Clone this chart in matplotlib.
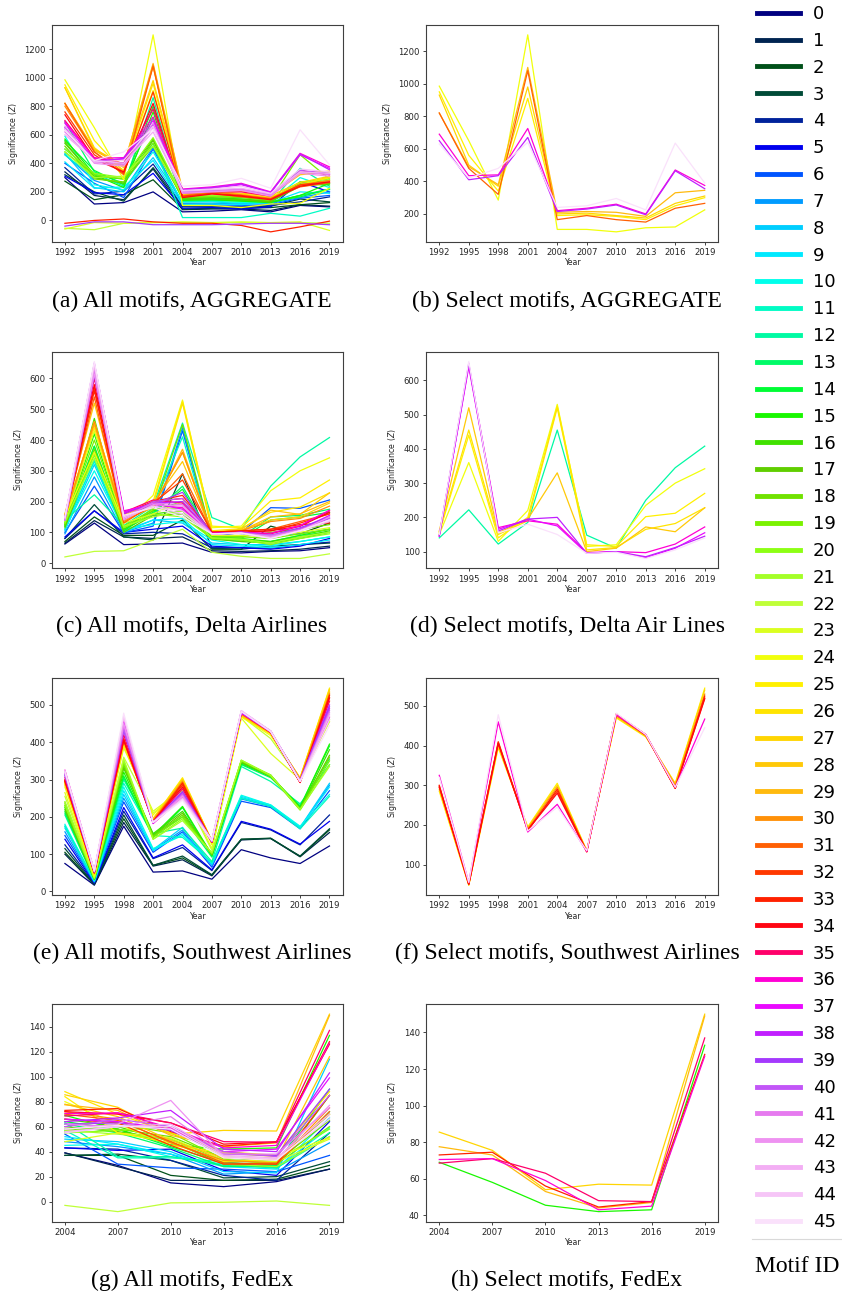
import matplotlib
matplotlib.use("Agg")
import matplotlib.pyplot as plt
import numpy as np
from matplotlib.lines import Line2D
from matplotlib.ticker import MultipleLocator

# years on the x axis
YEARS = [1992, 1995, 1998, 2001, 2004, 2007, 2010, 2013, 2016, 2019]
FEDEX_YEARS = [2004, 2007, 2010, 2013, 2016, 2019]

# significance per motif (rows = motif 0..45), AGGREGATE network
AGGREGATE = [
    [300, 115, 125, 200, 60, 65, 75, 60, 105, 95],
    [340, 175, 145, 360, 75, 80, 80, 70, 110, 100],
    [275, 145, 180, 285, 80, 85, 85, 90, 110, 125],
    [320, 200, 135, 370, 95, 95, 90, 100, 150, 130],
    [370, 185, 205, 395, 100, 100, 95, 105, 130, 165],
    [310, 195, 180, 330, 85, 90, 80, 95, 270, 200],
    [400, 260, 160, 500, 110, 110, 105, 110, 155, 175],
    [460, 280, 210, 510, 120, 120, 115, 120, 160, 200],
    [470, 230, 200, 440, 130, 130, 120, 125, 175, 215],
    [410, 225, 235, 420, 110, 115, 110, 125, 200, 190],
    [590, 250, 215, 480, 130, 135, 125, 130, 300, 230],
    [460, 300, 255, 540, 20, 20, 20, 50, 30, 85],
    [500, 330, 240, 860, 135, 140, 135, 125, 365, 240],
    [690, 340, 260, 720, 150, 155, 150, 130, 175, 220],
    [560, 350, 250, 800, 145, 150, 140, 130, 165, 220],
    [570, 320, 230, 760, 140, 145, 135, 125, 175, 260],
    [540, 310, 290, 570, 155, 160, 150, 135, 250, 250],
    [550, 300, 260, 560, 150, 150, 145, 130, 240, 260],
    [520, 290, 270, 520, 160, 165, 160, 140, 260, 280],
    [480, 320, 290, 540, 165, 170, 165, 145, 460, 290],
    [500, 330, 300, 580, 170, 175, 170, 150, 270, 290],
    [480, 300, 310, 520, 175, 180, 175, 150, 250, 300],
    [-55, -65, -20, -15, -15, -15, -15, -20, -15, -20],
    [-60, -15, -20, -15, -10, -15, -10, -15, -10, -70],
    [985, 650, 285, 1300, 105, 105, 90, 115, 120, 225],
    [950, 560, 340, 910, 190, 195, 185, 165, 250, 300],
    [930, 510, 350, 960, 180, 190, 175, 160, 240, 310],
    [930, 500, 370, 980, 200, 205, 190, 175, 265, 310],
    [820, 500, 390, 1080, 205, 210, 205, 180, 320, 340],
    [820, 490, 380, 1100, 210, 215, 210, 185, 330, 345],
    [800, 480, 340, 1090, 175, 200, 180, 155, 250, 280],
    [820, 480, 320, 1080, 165, 190, 165, 150, 235, 265],
    [760, 460, 330, 900, 170, 190, 175, 150, 250, 270],
    [-20, 0, 10, -10, -20, -20, -35, -80, -45, -5],
    [740, 430, 340, 820, 160, 185, 170, 145, 240, 270],
    [700, 440, 400, 780, 190, 200, 200, 170, 350, 320],
    [690, 435, 440, 725, 220, 235, 260, 200, 470, 375],
    [680, 420, 430, 700, 215, 225, 250, 195, 460, 365],
    [650, 410, 435, 670, 215, 230, 255, 195, 465, 355],
    [-40, -10, -10, -30, -30, -30, -25, -20, -20, -30],
    [640, 420, 400, 650, 200, 210, 220, 180, 350, 330],
    [620, 410, 390, 680, 195, 205, 215, 175, 340, 320],
    [660, 400, 380, 650, 190, 200, 210, 170, 330, 310],
    [600, 420, 400, 620, 205, 215, 225, 185, 340, 330],
    [640, 410, 420, 660, 210, 220, 240, 190, 360, 340],
    [630, 420, 480, 640, 240, 250, 295, 225, 635, 390],
]

DELTA = [
    [62, 130, 60, 62, 65, 35, 33, 38, 40, 50],
    [65, 138, 85, 80, 85, 40, 38, 40, 45, 55],
    [70, 150, 90, 90, 140, 45, 45, 120, 95, 130],
    [80, 190, 85, 75, 290, 48, 45, 55, 60, 65],
    [80, 170, 95, 100, 95, 50, 50, 48, 60, 68],
    [85, 170, 100, 110, 120, 55, 50, 45, 55, 80],
    [100, 250, 98, 120, 430, 85, 100, 180, 178, 205],
    [95, 280, 100, 130, 440, 80, 90, 90, 95, 110],
    [105, 320, 105, 140, 130, 65, 60, 60, 70, 85],
    [110, 335, 100, 140, 145, 60, 55, 50, 60, 75],
    [110, 300, 110, 125, 135, 75, 60, 55, 70, 85],
    [120, 330, 105, 180, 410, 80, 70, 70, 90, 100],
    [140, 222, 122, 185, 455, 148, 110, 250, 345, 408],
    [120, 380, 110, 160, 250, 85, 85, 150, 155, 175],
    [125, 380, 105, 165, 240, 80, 80, 140, 150, 165],
    [130, 420, 115, 170, 200, 85, 80, 70, 90, 110],
    [120, 470, 110, 160, 170, 80, 75, 70, 85, 105],
    [115, 360, 100, 155, 160, 78, 70, 65, 80, 100],
    [125, 370, 115, 170, 450, 85, 85, 100, 110, 125],
    [130, 400, 120, 175, 180, 90, 85, 80, 95, 110],
    [130, 350, 115, 160, 150, 80, 75, 60, 80, 95],
    [135, 340, 120, 150, 170, 82, 78, 65, 85, 100],
    [20, 38, 40, 75, 110, 35, 22, 15, 15, 30],
    [140, 430, 130, 160, 200, 90, 90, 85, 100, 115],
    [150, 360, 130, 220, 530, 115, 120, 235, 300, 342],
    [155, 440, 140, 200, 525, 120, 115, 202, 212, 270],
    [158, 455, 150, 190, 520, 105, 112, 165, 182, 228],
    [150, 460, 145, 185, 360, 100, 108, 140, 150, 195],
    [160, 520, 155, 195, 330, 100, 110, 172, 158, 228],
    [150, 450, 140, 180, 370, 100, 105, 150, 160, 200],
    [150, 460, 135, 185, 360, 100, 105, 135, 145, 185],
    [145, 540, 130, 190, 290, 100, 105, 110, 135, 160],
    [150, 570, 140, 195, 270, 100, 100, 105, 130, 160],
    [145, 560, 145, 200, 220, 100, 105, 110, 125, 130],
    [150, 580, 160, 200, 210, 100, 100, 105, 120, 165],
    [145, 600, 165, 205, 195, 97, 100, 95, 120, 170],
    [145, 645, 170, 190, 180, 97, 100, 97, 122, 172],
    [148, 640, 165, 195, 175, 95, 100, 82, 110, 155],
    [145, 650, 160, 195, 200, 95, 100, 85, 112, 145],
    [140, 610, 150, 190, 230, 95, 100, 90, 115, 150],
    [140, 620, 145, 200, 210, 95, 98, 90, 110, 145],
    [145, 630, 150, 195, 190, 95, 98, 88, 108, 140],
    [140, 615, 140, 190, 185, 95, 97, 85, 105, 150],
    [145, 640, 145, 185, 170, 95, 96, 82, 105, 135],
    [148, 650, 150, 185, 160, 95, 97, 80, 105, 140],
    [150, 655, 155, 180, 150, 95, 98, 80, 105, 140],
]

SOUTHWEST = [
    [75, 17, 175, 52, 55, 33, 112, 90, 75, 122],
    [100, 18, 185, 68, 85, 42, 138, 142, 93, 158],
    [105, 20, 195, 70, 90, 44, 140, 143, 94, 165],
    [115, 20, 205, 70, 95, 45, 140, 142, 95, 168],
    [125, 22, 215, 88, 118, 56, 185, 165, 125, 205],
    [140, 23, 225, 90, 125, 58, 188, 167, 127, 188],
    [150, 25, 240, 105, 160, 65, 242, 225, 168, 270],
    [160, 26, 250, 110, 165, 70, 248, 228, 170, 285],
    [170, 27, 260, 112, 172, 72, 252, 230, 172, 290],
    [175, 28, 270, 110, 155, 75, 255, 232, 172, 280],
    [180, 29, 280, 115, 150, 76, 258, 232, 175, 260],
    [175, 30, 290, 150, 145, 78, 250, 228, 168, 255],
    [205, 32, 300, 155, 170, 80, 335, 295, 235, 340],
    [210, 32, 305, 150, 200, 92, 340, 305, 230, 355],
    [215, 33, 310, 145, 225, 95, 342, 308, 228, 390],
    [225, 33, 320, 150, 228, 98, 345, 310, 225, 395],
    [230, 34, 330, 155, 215, 100, 348, 312, 222, 380],
    [220, 34, 335, 150, 210, 98, 346, 308, 220, 365],
    [235, 35, 340, 148, 205, 100, 350, 310, 222, 360],
    [240, 35, 345, 145, 200, 102, 350, 312, 220, 350],
    [230, 36, 350, 140, 195, 103, 352, 310, 218, 340],
    [240, 36, 355, 140, 190, 104, 352, 312, 220, 335],
    [255, 38, 360, 210, 270, 110, 470, 410, 300, 460],
    [265, 40, 385, 215, 275, 115, 465, 370, 300, 455],
    [280, 42, 390, 205, 290, 125, 468, 418, 302, 510],
    [285, 48, 395, 195, 305, 135, 470, 422, 305, 545],
    [288, 46, 398, 195, 302, 135, 471, 423, 304, 542],
    [290, 48, 400, 193, 300, 135, 472, 424, 303, 540],
    [292, 48, 402, 192, 298, 134, 473, 424, 302, 535],
    [293, 49, 403, 191, 296, 134, 474, 425, 301, 532],
    [295, 50, 405, 190, 295, 133, 475, 425, 300, 530],
    [297, 50, 406, 189, 292, 133, 477, 426, 298, 527],
    [300, 50, 410, 188, 285, 132, 480, 428, 293, 520],
    [295, 52, 408, 185, 290, 133, 478, 427, 292, 525],
    [298, 50, 405, 187, 280, 132, 480, 427, 292, 518],
    [305, 52, 420, 186, 275, 133, 480, 428, 294, 510],
    [325, 55, 460, 182, 252, 133, 478, 428, 295, 467],
    [320, 54, 455, 183, 260, 134, 479, 428, 296, 490],
    [315, 53, 440, 184, 265, 135, 480, 429, 297, 500],
    [310, 52, 430, 185, 268, 135, 481, 429, 298, 495],
    [312, 53, 435, 185, 262, 136, 482, 430, 297, 485],
    [318, 54, 445, 186, 258, 136, 483, 430, 296, 480],
    [320, 55, 450, 186, 255, 137, 484, 430, 295, 475],
    [322, 55, 465, 185, 250, 138, 484, 430, 295, 470],
    [324, 55, 470, 185, 248, 138, 485, 430, 295, 460],
    [320, 55, 478, 185, 245, 135, 482, 428, 295, 445],
]

FEDEX = [
    [39, 29, 15, 12, 16, 26],
    [39, 28, 17, 17, 17, 26],
    [37, 37, 21, 17, 18, 29],
    [37, 38, 33, 19, 20, 32],
    [43, 42, 33, 21, 17, 55],
    [43, 41, 42, 25, 21, 64],
    [54, 30, 27, 26, 24, 37],
    [48, 44, 38, 22, 24, 47],
    [50, 48, 40, 24, 23, 114],
    [52, 46, 38, 28, 26, 67],
    [45, 46, 36, 30, 27, 59],
    [57, 35, 35, 32, 27, 52],
    [63, 36, 36, 29, 27, 55],
    [62, 55, 43, 28, 29, 72],
    [64, 58, 44, 31, 30, 90],
    [69, 58, 45.5, 42, 43, 133],
    [66, 60, 48, 30, 28, 85],
    [60, 56, 50, 33, 31, 70],
    [58, 58, 52, 35, 32, 65],
    [56, 62, 55, 34, 30, 60],
    [55, 57, 60, 36, 33, 58],
    [57, 54, 50, 30, 28, 52],
    [-3, -8, -1, -0.5, 0.5, -3],
    [48, 55, 51, 33, 32, 50],
    [80, 62, 45, 39, 36, 51],
    [84, 55, 47, 32, 34, 70],
    [88, 70, 55, 40, 37, 88],
    [85.5, 75.5, 54, 57, 56.5, 150],
    [78, 68, 49, 35, 34, 116],
    [77.5, 73, 53, 44, 47, 149],
    [72, 66, 47, 33, 31, 75],
    [70, 65, 48, 31, 30, 72],
    [66, 63, 45, 30, 30, 85],
    [73, 74.5, 56, 44.5, 47.5, 128],
    [72, 70, 63, 46, 48, 126],
    [68.5, 71, 63, 48, 47.5, 137],
    [70.5, 71, 59, 43, 45, 127],
    [66, 64, 58, 40, 42, 99],
    [64, 67, 73, 42, 40, 103],
    [62, 63, 57, 38, 37, 90],
    [60, 66, 60, 40, 36, 85],
    [62, 60, 68, 38, 38, 75],
    [58, 62, 81, 36, 34, 77],
    [56, 60, 62, 37, 35, 70],
    [55, 60, 60, 36, 34, 66],
    [58, 61, 58, 35, 33, 68],
]

# motifs shown in the "select" panels
SELECT_AGGREGATE = [24, 25, 27, 29, 31, 36, 38, 45]
SELECT_DELTA = [12, 24, 25, 26, 28, 36, 37, 38, 45]
SELECT_SOUTHWEST = [25, 27, 30, 32, 33, 34, 36, 45]
SELECT_FEDEX = [15, 27, 29, 33, 35, 36]

CAPTIONS = [
    "(a) All motifs, AGGREGATE", "(b) Select motifs, AGGREGATE",
    "(c) All motifs, Delta Airlines", "(d) Select motifs, Delta Air Lines",
    "(e) All motifs, Southwest Airlines", "(f) Select motifs, Southwest Airlines",
    "(g) All motifs, FedEx", "(h) Select motifs, FedEx",
]
Y_STEPS = [200, 200, 100, 100, 100, 100, 20, 20]

N_MOTIFS = 46
W, H = 842, 1293


def draw_panel(ax, years, data, motifs, colors, ystep):
    for m in motifs:
        ax.plot(years, data[m], color=colors[m], lw=0.9)
    ax.set_xticks(years)
    ax.yaxis.set_major_locator(MultipleLocator(ystep))
    ax.tick_params(labelsize=6.1, length=2.5, width=0.6, pad=2, colors='0.15')
    ax.set_xlabel('Year', fontsize=5.7, labelpad=1, color='0.15')
    ax.set_ylabel(r'Significance ($Z$)', fontsize=5.7, labelpad=3, color='0.15')
    for s in ax.spines.values():
        s.set_color('0.25')
        s.set_linewidth(0.8)


def create_motif_figure():
    fig = plt.figure(figsize=(W / 100, H / 100), dpi=100)
    colors = plt.cm.gist_ncar(np.arange(N_MOTIFS) / N_MOTIFS)

    # (top, bottom) of each row and (left, right) of each column, pixels
    rows = [(25, 241.7), (351.7, 568.3), (678.3, 895), (1004.3, 1221.5)]
    cols = [(51.7, 342.7), (426, 718)]
    cap_y = [301.7, 626, 953.3, 1280]
    cap_x = [192, 567]

    sets = [
        (YEARS, AGGREGATE, SELECT_AGGREGATE),
        (YEARS, DELTA, SELECT_DELTA),
        (YEARS, SOUTHWEST, SELECT_SOUTHWEST),
        (FEDEX_YEARS, FEDEX, SELECT_FEDEX),
    ]
    all_ids = list(range(N_MOTIFS))
    for r, (years, data, sel) in enumerate(sets):
        top, bot = rows[r]
        for c in range(2):
            left, right = cols[c]
            ax = fig.add_axes([left / W, 1 - bot / H, (right - left) / W, (bot - top) / H])
            draw_panel(ax, years, data, all_ids if c == 0 else sel, colors, Y_STEPS[2 * r + c])
            fig.text(cap_x[c] / W, 1 - cap_y[r] / H, CAPTIONS[2 * r + c], ha='center', va='center',
                     fontsize=17, family='Liberation Serif')

    # legend of all motif colours
    handles = [Line2D([], [], color=colors[i], lw=3.5) for i in all_ids]
    fig.legend(handles, [str(i) for i in all_ids], loc='upper left',
               bbox_to_anchor=(757 / W, 1 - 5 / H), frameon=False, fontsize=13,
               handlelength=2.4, handletextpad=0.7, labelspacing=0.49,
               borderpad=0, borderaxespad=0)
    fig.add_artist(Line2D([752 / W, 1.0], [1 - 1239 / H, 1 - 1239 / H], color='0.85', lw=0.8))
    fig.text(797 / W, 1 - 1266 / H, 'Motif ID', ha='center', va='center',
             fontsize=17, family='Liberation Serif')

    fig.savefig('out.png', dpi=100)


if __name__ == "__main__":
    create_motif_figure()
